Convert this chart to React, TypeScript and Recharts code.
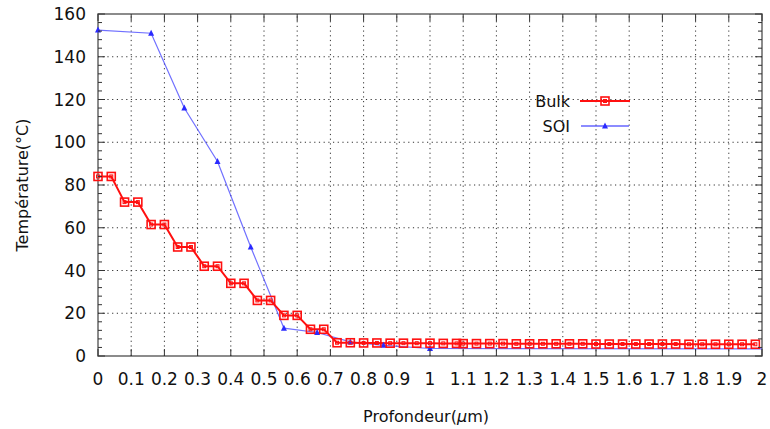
import {
  LineChart,
  Line,
  XAxis,
  YAxis,
  Legend,
  ReferenceArea,
  ReferenceLine,
} from "recharts";

// Bulk: profondeur (um) / température (°C)
const bulkDepth = [
  0, 0.04, 0.08, 0.12, 0.16, 0.2, 0.24, 0.28, 0.32, 0.36, 0.4, 0.44, 0.48, 0.52,
  0.56, 0.6, 0.64, 0.68, 0.72, 0.76, 0.8, 0.84, 0.88, 0.92, 0.96, 1.0, 1.04, 1.08,
  1.1, 1.14, 1.18, 1.22, 1.26, 1.3, 1.34, 1.38, 1.42, 1.46, 1.5, 1.54, 1.58, 1.62,
  1.66, 1.7, 1.74, 1.78, 1.82, 1.86, 1.9, 1.94, 1.98,
];
const bulkTemp = [
  84, 84, 72, 72, 61.5, 61.5, 51, 51, 42, 42, 34, 34, 26, 26,
  19, 19, 12.5, 12.5, 6.2, 6.2, 6.1, 6.1, 6.0, 6.0, 6.0, 6.0, 5.9, 5.9,
  5.8, 5.8, 5.8, 5.8, 5.7, 5.7, 5.7, 5.7, 5.7, 5.7, 5.6, 5.6, 5.6, 5.6,
  5.6, 5.6, 5.6, 5.5, 5.5, 5.5, 5.5, 5.5, 5.5,
];

// SOI
const soiDepth = [0, 0.16, 0.26, 0.36, 0.46, 0.56, 0.66, 0.76, 0.86, 1.0, 2.0];
const soiTemp = [152.5, 151, 116, 91, 51, 13, 11, 6.6, 5, 3.5, 3.3];

const xTicks = [
  0, 0.1, 0.2, 0.3, 0.4, 0.5, 0.6, 0.7, 0.8, 0.9, 1, 1.1, 1.2, 1.3, 1.4, 1.5,
  1.6, 1.7, 1.8, 1.9, 2,
];
const yLabels = [0, 20, 40, 60, 80, 100, 120, 140, 160];

const bulkData = bulkDepth.map((x, i) => ({ x, bulk: bulkTemp[i] }));
const soiData = soiDepth.map((x, i) => ({ x, soi: soiTemp[i] }));

// minor ticks every 4 on the y axis
const yTicks = Array.from({ length: 41 }, (_, i) => i * 4);

const W = 770;
const H = 429;
const margin = { top: 14, right: 8, bottom: 43, left: 0 };
const RIGHT = W - margin.right;
const TOP = margin.top;
const FONT = "DejaVu Sans";

const YTick = (props: any) => {
  const { x, y, payload } = props;
  const v = payload.value;
  const major = v % 20 === 0;
  const len = major ? 7 : 4;
  return (
    <g>
      <line x1={x} y1={y} x2={x + len} y2={y} stroke="#333" />
      <line x1={RIGHT} y1={y} x2={RIGHT - len} y2={y} stroke="#333" />
      {major && (
        <text x={x - 12} y={y + 6} textAnchor="end" fontSize={17} fontFamily={FONT} fill="#111">
          {v}
        </text>
      )}
    </g>
  );
};

const XTick = (props: any) => {
  const { x, y, payload } = props;
  return (
    <g>
      <line x1={x} y1={y} x2={x} y2={y - 7} stroke="#333" />
      <line x1={x} y1={TOP} x2={x} y2={TOP + 7} stroke="#333" />
      <text x={x} y={y + 29} textAnchor="middle" fontSize={17} fontFamily={FONT} fill="#111">
        {payload.value}
      </text>
    </g>
  );
};

const XTitle = (props: any) => {
  const vb = props.viewBox;
  return (
    <text x={vb.x + vb.width / 2 - 4} y={vb.y + 66} textAnchor="middle" fontSize={16} fontFamily={FONT} fill="#111">
      Profondeur(<tspan fontStyle="italic">μ</tspan>m)
    </text>
  );
};

const YTitle = (props: any) => {
  const vb = props.viewBox;
  const cx = vb.x + 28;
  const cy = vb.y + vb.height / 2;
  return (
    <text x={cx} y={cy} transform={`rotate(-90, ${cx}, ${cy})`} textAnchor="middle" fontSize={16} fontFamily={FONT} fill="#111">
      Température(°C)
    </text>
  );
};

const squareDot = (props: any) => {
  const { cx, cy, index } = props;
  return (
    <g key={`b${index}`}>
      <rect x={cx - 4} y={cy - 4} width={8} height={8} fill="none" stroke="#ff1010" strokeWidth={1.6} />
      <rect x={cx - 1.5} y={cy - 1.5} width={3} height={3} fill="none" stroke="#ff1010" strokeWidth={1} />
    </g>
  );
};

const triDot = (props: any) => {
  const { cx, cy, index } = props;
  if (index === soiTemp.length - 1) return <g key={`s${index}`} />;
  return (
    <polygon
      key={`s${index}`}
      points={`${cx},${cy - 3.5} ${cx - 3},${cy + 2.5} ${cx + 3},${cy + 2.5}`}
      fill="#2a2aff"
    />
  );
};

const LegendBox = () => (
  <svg width={110} height={50}>
    <text x={40} y={19} textAnchor="end" fontSize={16} fontFamily={FONT} fill="#111">
      Bulk
    </text>
    <line x1={50} y1={13} x2={100} y2={13} stroke="#ff1010" strokeWidth={2} />
    {squareDot({ cx: 75, cy: 13, index: "l" })}
    <text x={40} y={44} textAnchor="end" fontSize={16} fontFamily={FONT} fill="#111">
      SOI
    </text>
    <line x1={51} y1={38} x2={99} y2={38} stroke="#4040ff" strokeOpacity={0.8} strokeWidth={1.3} />
    <polygon points="75,34.5 72,40.5 78,40.5" fill="#2a2aff" />
  </svg>
);

const gridProps = { stroke: "#333", strokeDasharray: "1.2 3.5", strokeWidth: 1 };

export default function App() {
  return (
    <div style={{ position: "absolute", left: 0, top: 0, background: "#fff" }}>
      <LineChart width={W} height={H} margin={margin}>
        <XAxis
          type="number"
          dataKey="x"
          domain={[0, 2]}
          ticks={xTicks}
          interval={0}
          height={30}
          tickSize={0}
          tickMargin={0}
          axisLine={false}
          tick={<XTick />}
          label={<XTitle />}
          allowDuplicatedCategory={false}
        />
        <YAxis
          type="number"
          domain={[0, 160]}
          ticks={yTicks}
          interval={0}
          width={98}
          tickSize={0}
          tickMargin={0}
          axisLine={false}
          tick={<YTick />}
          label={<YTitle />}
        />
        {yLabels.slice(1, -1).map((v) => (
          <ReferenceLine key={`h${v}`} y={v} {...gridProps} />
        ))}
        {xTicks.slice(1, -1).map((v) => (
          <ReferenceLine key={`v${v}`} x={v} {...gridProps} />
        ))}
        <ReferenceArea x1={0} x2={2} y1={0} y2={160} fill="none" stroke="#666" strokeWidth={1.5} ifOverflow="visible" />
        <Line
          data={soiData}
          dataKey="soi"
          name="SOI"
          stroke="#4040ff"
          strokeOpacity={0.75}
          strokeWidth={1.2}
          dot={triDot}
          isAnimationActive={false}
        />
        <Line
          data={bulkData}
          dataKey="bulk"
          name="Bulk"
          stroke="#ff1010"
          strokeWidth={2}
          dot={squareDot}
          isAnimationActive={false}
        />
        <Legend
          layout="vertical"
          align="center"
          verticalAlign="middle"
          content={<LegendBox />}
          wrapperStyle={{ left: 530, top: 88, width: 110, height: 50 }}
        />
      </LineChart>
    </div>
  );
}
